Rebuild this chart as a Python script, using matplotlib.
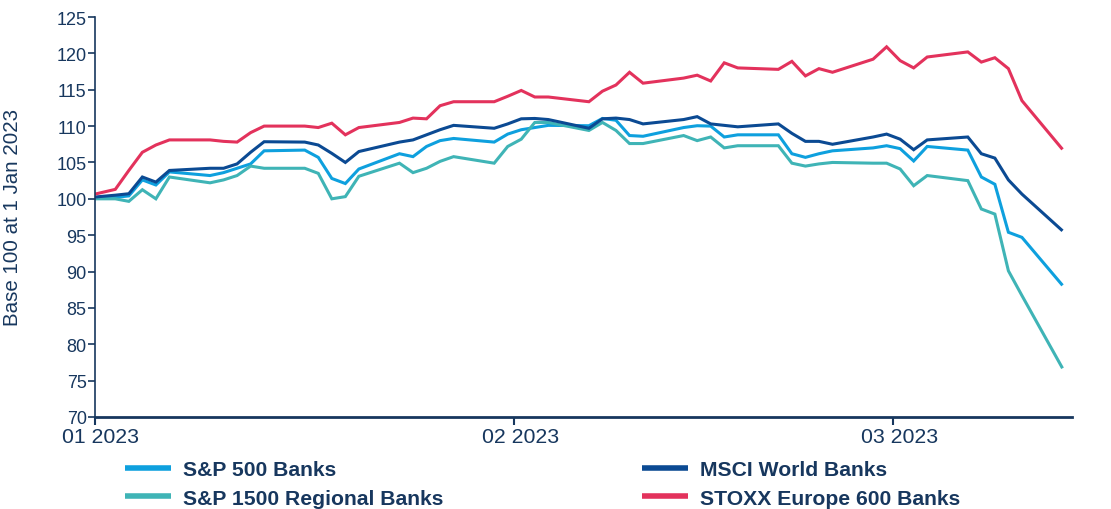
import numpy as np
import matplotlib
matplotlib.use("Agg")
import matplotlib.pyplot as plt
import matplotlib.transforms as mtransforms
from matplotlib import font_manager

# ---------------- data ----------------
dates = ["2022-12-30",
         "2023-01-02", "2023-01-03", "2023-01-04", "2023-01-05", "2023-01-06",
         "2023-01-09", "2023-01-10", "2023-01-11", "2023-01-12", "2023-01-13",
         "2023-01-16", "2023-01-17", "2023-01-18", "2023-01-19", "2023-01-20",
         "2023-01-23", "2023-01-24", "2023-01-25", "2023-01-26", "2023-01-27",
         "2023-01-30", "2023-01-31", "2023-02-01", "2023-02-02", "2023-02-03",
         "2023-02-06", "2023-02-07", "2023-02-08", "2023-02-09", "2023-02-10",
         "2023-02-13", "2023-02-14", "2023-02-15", "2023-02-16", "2023-02-17",
         "2023-02-20", "2023-02-21", "2023-02-22", "2023-02-23", "2023-02-24",
         "2023-02-27", "2023-02-28", "2023-03-01", "2023-03-02", "2023-03-03",
         "2023-03-06", "2023-03-07", "2023-03-08", "2023-03-09", "2023-03-10",
         "2023-03-13"]

sp500_banks = [100.0,
               100.2, 100.4, 102.6, 101.9, 103.7,
               103.2, 103.6, 104.2, 104.8, 106.6,
               106.7, 105.7, 102.8, 102.1, 104.1,
               106.2, 105.8, 107.2, 108.0, 108.3,
               107.8, 108.9, 109.5, 109.8, 110.1,
               110.05, 111.05, 110.8, 108.7, 108.6,
               109.8, 110.05, 110.0, 108.5, 108.8,
               108.8, 106.2, 105.7, 106.2, 106.6,
               107.0, 107.3, 106.9, 105.2, 107.2,
               106.7, 103.0, 102.0, 95.4, 94.7,
               88.1]

msci_world_banks = [100.0,
                    100.5, 100.7, 103.0, 102.3, 103.9,
                    104.2, 104.2, 104.8, 106.4, 107.85,
                    107.8, 107.4, 106.25, 105.0, 106.5,
                    107.8, 108.1, 108.8, 109.5, 110.1,
                    109.7, 110.3, 111.0, 111.05, 110.9,
                    109.7, 111.0, 111.1, 110.9, 110.3,
                    110.9, 111.3, 110.3, 110.1, 109.9,
                    110.3, 109.0, 107.9, 107.9, 107.5,
                    108.5, 108.9, 108.2, 106.75, 108.1,
                    108.5, 106.2, 105.6, 102.6, 100.65,
                    95.6]

sp1500_regional_banks = [100.0,
                         100.0, 99.65, 101.25, 100.0, 103.0,
                         102.2, 102.6, 103.2, 104.5, 104.2,
                         104.2, 103.5, 100.0, 100.3, 103.1,
                         104.9, 103.6, 104.2, 105.15, 105.8,
                         104.9, 107.2, 108.2, 110.5, 110.5,
                         109.4, 110.5, 109.4, 107.6, 107.6,
                         108.7, 108.0, 108.5, 107.0, 107.3,
                         107.3, 104.9, 104.5, 104.8, 105.0,
                         104.9, 104.9, 104.1, 101.8, 103.2,
                         102.5, 98.6, 97.9, 90.1, 86.7,
                         76.7]

stoxx600_banks = [100.0,
                  101.3, 103.9, 106.4, 107.4, 108.1,
                  108.1, 107.9, 107.8, 109.1, 110.0,
                  110.0, 109.8, 110.4, 108.8, 109.8,
                  110.5, 111.1, 111.0, 112.8, 113.35,
                  113.35, 114.1, 114.9, 114.0, 114.0,
                  113.35, 114.8, 115.65, 117.4, 115.9,
                  116.6, 117.0, 116.2, 118.7, 118.0,
                  117.8, 118.9, 116.9, 117.9, 117.4,
                  119.2, 120.9, 119.0, 118.0, 119.5,
                  120.2, 118.8, 119.4, 117.9, 113.5,
                  106.8]

x_tick_dates = ["2023-01-01", "2023-02-01", "2023-03-01"]
x_tick_labels = ["01 2023", "02 2023", "03 2023"]
y_ticks = [70, 75, 80, 85, 90, 95, 100, 105, 110, 115, 120, 125]

series = [
    ("S&P 500 Banks", sp500_banks, "#0EA0DE"),
    ("S&P 1500 Regional Banks", sp1500_regional_banks, "#3FB4B6"),
    ("MSCI World Banks", msci_world_banks, "#0B4A93"),
    ("STOXX Europe 600 Banks", stoxx600_banks, "#E3325C"),
]

# ---------------- fonts ----------------
available = {f.name for f in font_manager.fontManager.ttflist}
narrow = "Liberation Sans Narrow" if "Liberation Sans Narrow" in available else "Liberation Sans"
regular = "Liberation Sans"
text_color = "#17375E"

# ---------------- figure ----------------
fig = plt.figure(figsize=(11.11, 5.10), dpi=100)
ax = fig.add_axes([95 / 1111, 1 - 418 / 510, (1072 - 95) / 1111, 400 / 510])

origin = np.datetime64("2023-01-01")
t = (np.array(dates, dtype="datetime64[D]") - origin).astype(float) + 0.5

for label, vals, color in series:
    ax.plot(t, vals, color=color, lw=2.2, label=label, solid_joinstyle="miter",
            solid_capstyle="butt")

ax.set_ylim(70, 125)
ax.set_xlim(0, 72.2)
ax.set_yticks(y_ticks)
ax.set_yticklabels([str(v) for v in y_ticks], family=narrow, fontsize=13, color=text_color)
xt = (np.array(x_tick_dates, dtype="datetime64[D]") - origin).astype(float)
ax.set_xticks(xt)
ax.set_xticklabels(x_tick_labels, family=narrow, fontsize=15.3, color=text_color)

for s in ["top", "right"]:
    ax.spines[s].set_visible(False)
ax.spines["left"].set_color(text_color)
ax.spines["left"].set_linewidth(1.2)
ax.spines["bottom"].set_color(text_color)
ax.spines["bottom"].set_linewidth(2.0)
ax.tick_params(axis="both", colors=text_color, length=5, width=1.2, pad=1)
ax.tick_params(axis="x", length=6, width=1.5, pad=0)

ax.set_ylabel("Base 100 at 1 Jan 2023", family=regular, fontsize=14.8, color=text_color)
ax.yaxis.set_label_coords(-0.0747, 0.5)

handles, labels = ax.get_legend_handles_labels()
leg = fig.legend(handles, labels, ncol=2, loc="upper left",
                 bbox_to_anchor=(116.7 / 1111, 1 - 452.5 / 510), frameon=False,
                 prop={"family": narrow, "weight": "bold", "size": 15.2},
                 handlelength=2.16, handletextpad=0.6, columnspacing=9.4,
                 labelspacing=0.46, borderaxespad=0)
for txt in leg.get_texts():
    txt.set_color(text_color)
for ln in leg.get_lines():
    ln.set_linewidth(4)

# shift x tick labels slightly right/down as in the reference
fig.canvas.draw()
shift = mtransforms.ScaledTranslation(6 / 100, -2 / 100, fig.dpi_scale_trans)
for tick in ax.xaxis.get_major_ticks():
    tick.label1.set_transform(tick.label1.get_transform() + shift)

fig.savefig("out.png", dpi=100)
